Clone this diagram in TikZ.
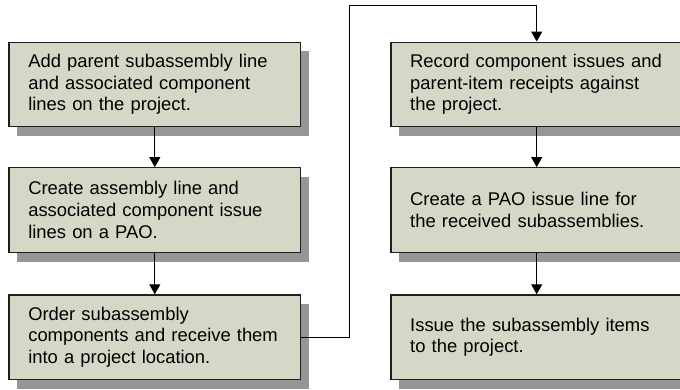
\documentclass[tikz,border=0pt]{standalone}
\usepackage{fontspec}
\setmainfont{Liberation Sans}
\usetikzlibrary{arrows.meta,shadows}
\definecolor{boxfill}{RGB}{214,216,199}
\definecolor{shadowgray}{RGB}{150,150,150}
\definecolor{boxline}{RGB}{30,30,30}
\begin{document}
\begin{tikzpicture}[x=1pt,y=-1pt,
  stepbox/.style={draw=boxline, line width=1.3pt, fill=boxfill,
    minimum width=291.5pt, minimum height=84.5pt, text width=253pt,
    inner xsep=19.25pt, inner ysep=0pt, align=left,
    font=\fontsize{18.4pt}{21.7pt}\selectfont,
    drop shadow={shadow xshift=8.3pt, shadow yshift=-9.3pt, fill=shadowgray, opacity=1}},
  link/.style={draw=black, line width=1pt, -{Triangle[width=11pt,length=10pt]}}]
\useasboundingbox (0,0) rectangle (680,389);
\node[stepbox] (a) at (154.8,84.4) {Add parent subassembly line\\and associated component\\lines on the project.};
\node[stepbox] (b) at (154.8,210.0) {Create assembly line and\\associated component issue\\lines on a PAO.};
\node[stepbox] (c) at (154.8,337.2) {Order subassembly\\components and receive them\\into a project location.};
\node[stepbox] (d) at (536.7,84.4) {Record component issues and\\parent-item receipts against\\the project.};
\node[stepbox] (e) at (536.7,210.0) {Create a PAO issue line for\\the received subassemblies.};
\node[stepbox] (f) at (536.7,337.2) {Issue the subassembly items\\to the project.};
\coordinate (k) at (349,5.7);
\draw[link] (a) -- (b);
\draw[link] (b) -- (c);
\draw[link] (d) -- (e);
\draw[link] (e) -- (f);
\draw[link] (c.east) -- (c.east -| k) -- (k) -- (k -| d.north) -- (d.north);
\end{tikzpicture}
\end{document}
